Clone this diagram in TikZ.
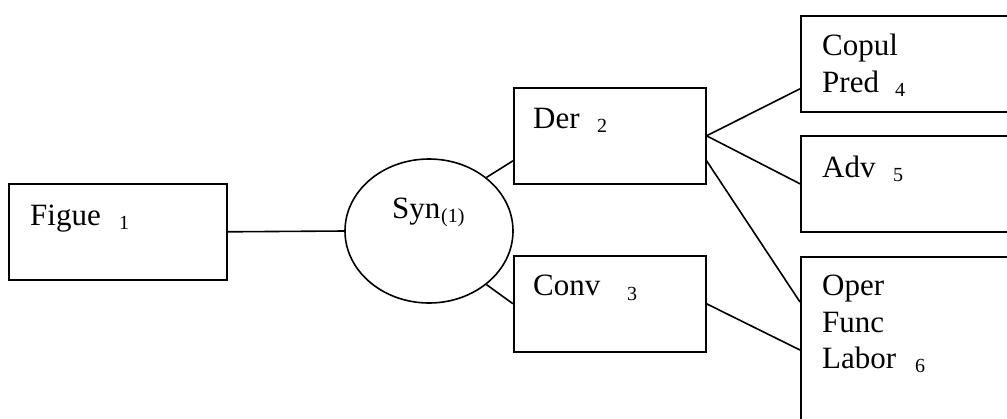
\documentclass[tikz,border=0pt]{standalone}
\usepackage{fontspec}
\setmainfont{Liberation Serif}
\usetikzlibrary{shapes.geometric}
\begin{document}
\begin{tikzpicture}[x=1pt,y=-1pt,
  box/.style={draw, line width=1.6pt, rectangle, inner sep=0pt, anchor=north west},
  oval/.style={draw, line width=1.6pt, ellipse, inner sep=0pt,
               minimum width=168pt, minimum height=144pt},
  word/.style={anchor=base west, inner sep=0pt, font=\fontsize{31}{37}\selectfont},
  idx/.style={anchor=base west, inner sep=0pt, font=\fontsize{20}{24}\selectfont},
  link/.style={line width=1.6pt}]
\useasboundingbox (0,0) rectangle (1007,418);
\fill[white] (0,0) rectangle (1007,418);
\clip (0,0) rectangle (1007,418);

% boxes and the oval
\node[box, minimum width=218pt, minimum height=96pt] (figue) at (8,183) {};
\node[oval] (syn) at (429,231) {};
\node[box, minimum width=192pt, minimum height=96pt] (der) at (513,87) {};
\node[box, minimum width=192pt, minimum height=96pt] (conv) at (513,255) {};
\node[box, minimum width=230pt, minimum height=96pt] (copul) at (800,15) {};
\node[box, minimum width=230pt, minimum height=96pt] (adv) at (800,135) {};
\node[box, minimum width=230pt, minimum height=184pt] (oper) at (800,256) {};

% labels
\node[word] (tfigue) at (30,225) {Figue};
\node[idx]  (ifigue) at (119,229) {1};
\node[word] (tsyn) at (392,218) {Syn};
\node[idx]  (isyn) at (441,222) {(1)};
\node[word] (tder) at (533,128) {Der};
\node[idx]  (ider) at (597,132) {2};
\node[word] (tconv) at (533,295) {Conv};
\node[idx]  (iconv) at (627,300) {3};
\node[word] (tcopul) at (822,55) {Copul};
\node[word] (tpred) at (822,92) {Pred};
\node[idx]  (ipred) at (895,96) {4};
\node[word] (tadv) at (822,177) {Adv};
\node[idx]  (iadv) at (893,181) {5};
\node[word] (toper) at (822,295) {Oper};
\node[word] (tfunc) at (822,332) {Func};
\node[word] (tlabor) at (822,368) {Labor};
\node[idx]  (ilabor) at (915,372) {6};

% connectors
\draw[link] (figue.east) -- (syn.west);
\draw[link] (syn.43) -- ([yshift=-25pt]der.west);
\draw[link] (syn.-43) -- (conv.west);
\draw[link] (der.east) -- ([yshift=-25pt]copul.west);
\draw[link] (der.east) -- (adv.west);
\draw[link] ([yshift=-25pt]der.east) -- ([yshift=-46pt]oper.north west);
\draw[link] (conv.east) -- ([yshift=-94pt]oper.north west);
\end{tikzpicture}
\end{document}
